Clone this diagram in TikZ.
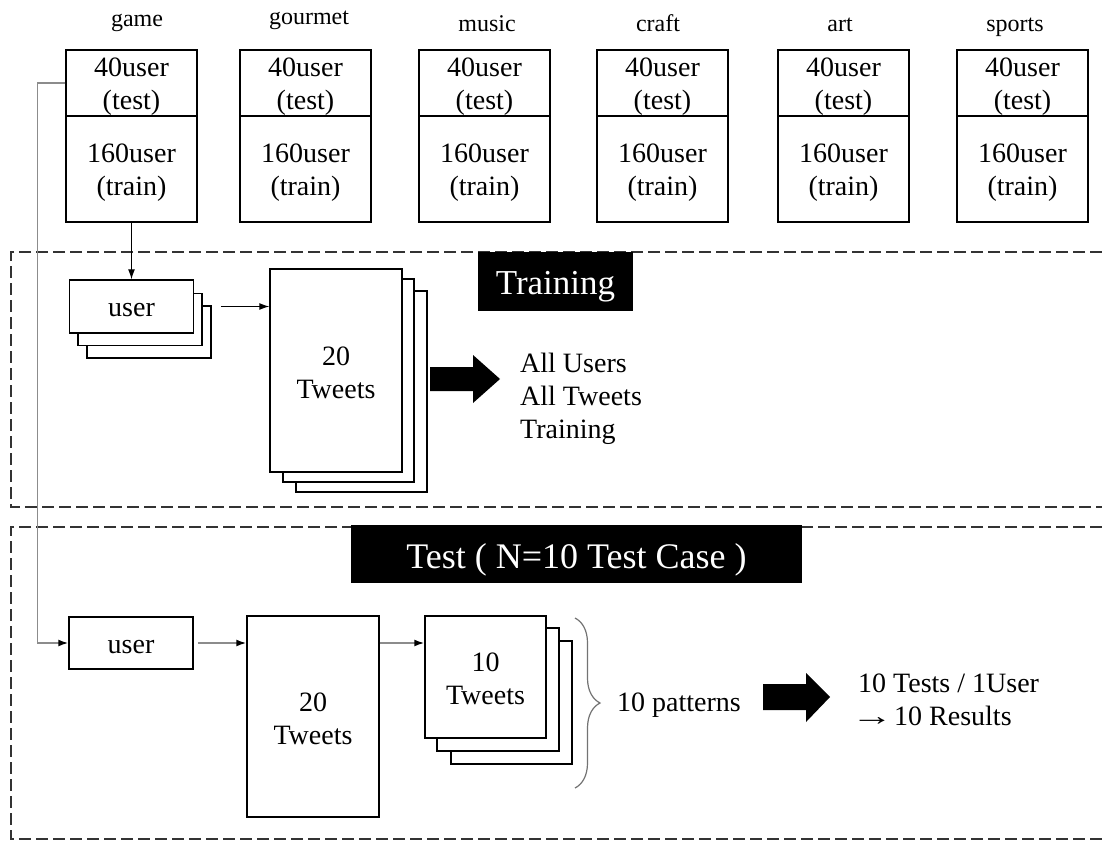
\documentclass[tikz,border=0pt]{standalone}
\usepackage{fontspec}
\setmainfont{Liberation Serif}
\usetikzlibrary{arrows.meta,decorations.pathreplacing}
\begin{document}
\begin{tikzpicture}[x=1pt,y=-1pt,
  txt/.style={font=\fontsize{28}{33}\selectfont,inner sep=0pt,align=center},
  lbl/.style={font=\fontsize{24}{28}\selectfont,inner sep=0pt,anchor=base},
  line/.style={font=\fontsize{28}{33}\selectfont,inner sep=0pt,anchor=base west},
  cell/.style={draw=black,line width=1.5pt,fill=white,minimum width=131pt,inner sep=0pt},
  card/.style={draw=black,line width=1.5pt,fill=white,inner sep=0pt},
  % text set inside a box, lowered a little for optical centring
  inside/.style 2 args={label={[txt,yshift=-#2]center:{#1}}},
  title/.style={fill=black,inner sep=0pt},
  titletext/.style={text=white,inner sep=0pt,font=\fontsize{36}{40}\selectfont},
  frame/.style={draw=black!80,line width=1.5pt,dash pattern=on 12pt off 5pt},
  arr/.style={-{Latex[length=10pt,width=7pt]},line width=1pt,black},
  garr/.style={-{Latex[length=10pt,width=7pt,color=black]},line width=1.5pt,draw=black!45},
  bigarrow/.style={fill=black}
]
\useasboundingbox (0,0) rectangle (1102,840);

% dashed frames of the two phases (open towards the right)
\draw[frame] (1102,252) -- (11,252) -- (11,507) -- (1102,507);
\draw[frame] (1102,527) -- (11,527) -- (11,839) -- (1102,839);

% categories: test / train split
\foreach \l/\n/\lx/\ly in {66/game/137/27, 240/gourmet/309/25, 419/music/487/32,
                           597/craft/658/32, 778/art/840/32, 957/sports/1015/32}{
  \node[lbl] (lbl-\n) at (\lx,\ly) {\n};
  \node[cell,minimum height=66pt,inside={40user\\(test)}{4pt}] (test-\n) at (\l+65.5,83) {};
  \node[cell,minimum height=106pt,inside={160user\\(train)}{4pt}] (train-\n) at (\l+65.5,169) {};
}

% ---- training phase ----
\node[title,minimum width=155pt,minimum height=59pt] (trTitle) at (555.5,281.5) {};
\node[titletext,font=\fontsize{35}{40}\selectfont,yshift=-5pt] (trTitleText) at (trTitle.center) {Training};

\node[card,minimum width=124pt,minimum height=52pt] (trUser3) at (149,332) {};
\node[card,minimum width=124pt,minimum height=52pt] (trUser2) at (140,319.5) {};
\node[card,minimum width=124pt,minimum height=53pt,inside={user}{4pt}] (trUser) at (131.5,306.5) {};

\node[card,minimum width=131pt,minimum height=201pt] (trTweets3) at (361.5,391.5) {};
\node[card,minimum width=131pt,minimum height=203pt] (trTweets2) at (348.5,380.5) {};
\node[card,minimum width=132pt,minimum height=203pt,inside={20\\Tweets}{2pt}] (trTweets) at (336,370.5) {};

\draw[arr] (train-game.south) -- (trUser.north);
\draw[arr] ([xshift=9pt]trUser3.east |- trUser.east) -- (trUser.east -| trTweets.west);

\fill[bigarrow] (430,367) -- (473,367) -- (473,355) -- (500,379) -- (473,403)
  -- (473,391) -- (430,391) -- cycle;
\node[txt,align=left,anchor=west] (trResult) at (520,399)
  {All Users\\All Tweets\\Training};

% ---- test phase ----
\node[title,minimum width=451pt,minimum height=58pt] (teTitle) at (576.5,554) {};
\node[titletext,yshift=-6pt] (teTitleText) at (teTitle.center) {Test ( N=10 Test Case )};

\node[card,minimum width=124pt,minimum height=52pt,inside={user}{4pt}] (teUser) at (131,643) {};
\node[card,minimum width=132pt,minimum height=201pt,inside={20\\Tweets}{2pt}] (te20) at (313,716.5) {};

\node[card,minimum width=121pt,minimum height=123pt] (te10c) at (511.5,702.5) {};
\node[card,minimum width=122pt,minimum height=123pt] (te10b) at (498,689.5) {};
\node[card,minimum width=121pt,minimum height=122pt,inside={10\\Tweets}{2pt}] (te10) at (485.5,677) {};

\draw[garr] (test-game.west) -- ++(-28,0) |- (teUser.west);
\draw[garr] ([xshift=4pt]teUser.east) -- (teUser.east -| te20.west);
\draw[garr] (te20.east |- teUser.east) -- (teUser.east -| te10.west);

\coordinate (braceTop) at (575,618);
\coordinate (braceBot) at (575,788);
\draw[draw=black!55,line width=1.2pt,decorate,decoration={brace,amplitude=25pt}]
  (braceTop) -- (braceBot);
\node[txt,anchor=west] (patterns) at (617,705) {10 patterns};

\fill[bigarrow] (763,684) -- (806,684) -- (806,673) -- (830,697) -- (806,722)
  -- (806,710) -- (763,710) -- cycle;
\node[line] (teResult) at (858,692) {10 Tests / 1User};
\node[line] (teResult2) at (858,725) {\kern-7pt\scalebox{1.5}[1]{→}\kern-6pt{} 10 Results};
\end{tikzpicture}
\end{document}
